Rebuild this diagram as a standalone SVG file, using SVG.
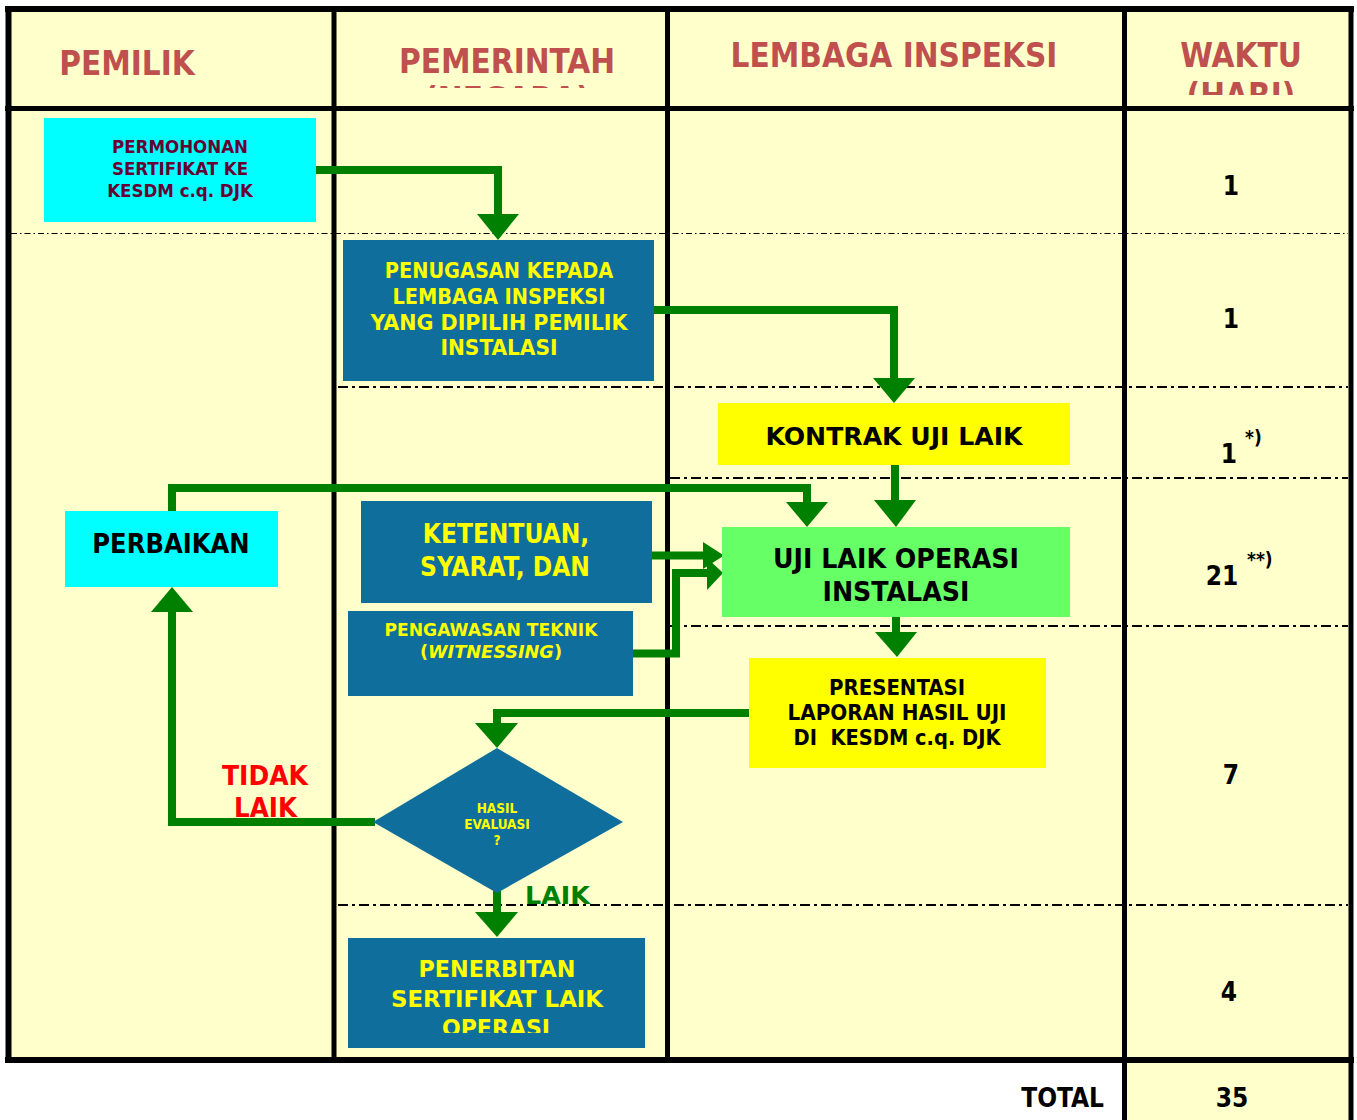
<svg xmlns="http://www.w3.org/2000/svg" width="1357" height="1120" viewBox="0 0 1357 1120">
<style>
.t{font-family:'DejaVu Sans Condensed','DejaVu Sans',sans-serif;font-stretch:condensed;font-weight:bold;text-anchor:middle}
.hdr{fill:#C0504D;font-size:33px}
.grid{stroke:#000;stroke-width:5;fill:none}
.dd1{stroke:#000;stroke-width:1.2;stroke-dasharray:6 3 1.5 3;fill:none}
.dd2{stroke:#000;stroke-width:2;stroke-dasharray:10 4 3 4;fill:none}
.conn{stroke:#008000;stroke-width:8;fill:none}
.ah{fill:#008000}
.blue{fill:#0F6E9B}
.yel{fill:#FFFF00}
.cyan{fill:#00FFFF}
.ytx{fill:#FFFF00}
.btx{fill:#000}
.num{fill:#000;font-size:26px}
</style>
<defs>
<clipPath id="clipPem"><rect x="336" y="12" width="330" height="76"/></clipPath>
<clipPath id="clipWak"><rect x="1127" y="12" width="222" height="83"/></clipPath>
<clipPath id="clipPen"><rect x="348" y="938" width="297" height="95"/></clipPath>
</defs>

<!-- background -->
<rect x="0" y="0" width="1357" height="1120" fill="#FFFFFF"/>
<rect x="8" y="9" width="1343" height="1051" fill="#FFFFCC"/>
<rect x="1124" y="1060" width="227" height="60" fill="#FFFFCC"/>

<!-- grid -->
<g id="grid">
<line class="grid" x1="5" y1="9" x2="1354" y2="9" style="stroke-width:6"/>
<line class="grid" x1="5" y1="108.5" x2="1354" y2="108.5"/>
<line class="grid" x1="5" y1="1060" x2="1354" y2="1060" style="stroke-width:6"/>
<line class="grid" x1="8.5" y1="6" x2="8.5" y2="1063" style="stroke-width:6"/>
<line class="grid" x1="334" y1="6" x2="334" y2="1063"/>
<line class="grid" x1="667.5" y1="6" x2="667.5" y2="1063"/>
<line class="grid" x1="1124.5" y1="6" x2="1124.5" y2="1120"/>
<line class="grid" x1="1351" y1="6" x2="1351" y2="1120"/>
<line class="dd1" x1="11" y1="233.5" x2="1348" y2="233.5"/>
<line class="dd2" x1="338" y1="387" x2="1348" y2="387"/>
<line class="dd2" x1="670" y1="478" x2="1348" y2="478"/>
<line class="dd2" x1="670" y1="626" x2="1348" y2="626"/>
<line class="dd2" x1="338" y1="905" x2="1348" y2="905"/>
</g>

<!-- headers -->
<g id="headers">
<text class="t hdr" x="127" y="75">PEMILIK</text>
<text class="t hdr" x="507" y="73">PEMERINTAH</text>
<text class="t hdr" x="507" y="111" clip-path="url(#clipPem)">(NEGARA)</text>
<text class="t hdr" x="894" y="67">LEMBAGA INSPEKSI</text>
<text class="t hdr" x="1241" y="67">WAKTU</text>
<text class="t hdr" x="1241" y="107" clip-path="url(#clipWak)">(HARI)</text>
</g>

<!-- connectors -->
<g id="connectors">
<polyline class="conn" points="313,170 498,170 498,216"/>
<polygon class="ah" points="477,214 519,214 498,240"/>
<polyline class="conn" points="652,310 894,310 894,380"/>
<polygon class="ah" points="873,378 915,378 894,403"/>
<polyline class="conn" points="895,463 895,502"/>
<polygon class="ah" points="874,500 916,500 896,527"/>
<polyline class="conn" points="172,513 172,488 807,488 807,504"/>
<polygon class="ah" points="786,502 828,502 807,527"/>
<polyline class="conn" points="643,555.5 705,555.5"/>
<polygon class="ah" points="703,542 703,569 724,555.5"/>
<polyline class="conn" points="630,653.5 676,653.5 676,573 710,573"/>
<polygon class="ah" points="707,558 707,590 723,573"/>
<polyline class="conn" points="896,615 896,634"/>
<polygon class="ah" points="875,632 917,632 897,657"/>
<polyline class="conn" points="751,713 497,713 497,725"/>
<polygon class="ah" points="475,723 518,723 497,748"/>
<polyline class="conn" points="497,891 497,914"/>
<polygon class="ah" points="475,912 518,912 497,937"/>
<polyline class="conn" points="375,822 172,822 172,610"/>
<polygon class="ah" points="151,612 193,612 172,587"/>
</g>

<!-- nodes -->
<g id="permohonan">
<rect class="cyan" x="44" y="118" width="272" height="104"/>
<text class="t" style="fill:#660033;font-size:18.5px" x="180" y="153">PERMOHONAN</text>
<text class="t" style="fill:#660033;font-size:18.5px" x="180" y="175">SERTIFIKAT KE</text>
<text class="t" style="fill:#660033;font-size:18.5px" x="180" y="197">KESDM c.q. DJK</text>
</g>
<g id="penugasan">
<rect class="blue" x="343" y="240" width="311" height="141"/>
<text class="t ytx" style="font-size:21.5px" x="499" y="278">PENUGASAN KEPADA</text>
<text class="t ytx" style="font-size:21.5px" x="499" y="304">LEMBAGA INSPEKSI</text>
<text class="t ytx" style="font-size:21.5px" x="499" y="330" textLength="257" lengthAdjust="spacingAndGlyphs">YANG DIPILIH PEMILIK</text>
<text class="t ytx" style="font-size:21.5px" x="499" y="355" textLength="117" lengthAdjust="spacingAndGlyphs">INSTALASI</text>
</g>
<g id="kontrak">
<rect class="yel" x="718" y="403" width="352" height="62"/>
<text class="t btx" style="font-size:25.5px" x="894" y="445" textLength="257" lengthAdjust="spacingAndGlyphs">KONTRAK UJI LAIK</text>
</g>
<g id="ketentuan">
<rect class="blue" x="361" y="501" width="291" height="102"/>
<text class="t ytx" style="font-size:26px" x="506" y="543">KETENTUAN,</text>
<text class="t ytx" style="font-size:26px" x="505" y="576">SYARAT, DAN</text>
</g>
<g id="pengawasan">
<rect class="blue" x="348" y="611" width="285" height="85"/>
<text class="t ytx" style="font-size:18px" x="491" y="636" textLength="213" lengthAdjust="spacingAndGlyphs">PENGAWASAN TEKNIK</text>
<text class="t ytx" style="font-size:18px" x="491" y="658" textLength="142" lengthAdjust="spacingAndGlyphs">(<tspan font-style="italic">WITNESSING</tspan>)</text>
</g>
<g id="ujilaik">
<rect x="722" y="527" width="348" height="90" fill="#66FF66"/>
<text class="t btx" style="font-size:26.5px" x="896" y="568" textLength="246" lengthAdjust="spacingAndGlyphs">UJI LAIK OPERASI</text>
<text class="t btx" style="font-size:26.5px" x="896" y="601" textLength="147" lengthAdjust="spacingAndGlyphs">INSTALASI</text>
</g>
<g id="presentasi">
<rect class="yel" x="749" y="658" width="297" height="110"/>
<text class="t btx" style="font-size:20.5px" x="897" y="695" textLength="136" lengthAdjust="spacingAndGlyphs">PRESENTASI</text>
<text class="t btx" style="font-size:20.5px" x="897" y="720" textLength="219" lengthAdjust="spacingAndGlyphs">LAPORAN HASIL UJI</text>
<text class="t btx" style="font-size:20.5px" x="897" y="745" textLength="207" lengthAdjust="spacingAndGlyphs" xml:space="preserve">DI  KESDM c.q. DJK</text>
</g>
<g id="perbaikan">
<rect class="cyan" x="65" y="511" width="213" height="76"/>
<text class="t btx" style="font-size:27px" x="171" y="553">PERBAIKAN</text>
</g>
<g id="evaluasi">
<polygon class="blue" points="497,748 623,822 497,893 373,822"/>
<text class="t ytx" style="font-size:13.5px" x="497" y="813">HASIL</text>
<text class="t ytx" style="font-size:13.5px" x="497" y="829">EVALUASI</text>
<text class="t ytx" style="font-size:13.5px" x="497" y="845">?</text>
</g>
<g id="penerbitan">
<rect class="blue" x="348" y="938" width="297" height="110"/>
<g clip-path="url(#clipPen)">
<text class="t ytx" style="font-size:23px" x="497" y="977" textLength="157" lengthAdjust="spacingAndGlyphs">PENERBITAN</text>
<text class="t ytx" style="font-size:23px" x="497" y="1007" textLength="212" lengthAdjust="spacingAndGlyphs">SERTIFIKAT LAIK</text>
<text class="t ytx" style="font-size:23px" x="496" y="1036" textLength="108" lengthAdjust="spacingAndGlyphs">OPERASI</text>
</g>
</g>

<!-- labels -->
<g id="labels">
<text class="t" style="fill:#FF0000;font-size:26px" x="265" y="785" textLength="86" lengthAdjust="spacingAndGlyphs">TIDAK</text>
<text class="t" style="fill:#FF0000;font-size:26px" x="265.5" y="817" textLength="63" lengthAdjust="spacingAndGlyphs">LAIK</text>
<text class="t" style="fill:#008000;font-size:25px;text-anchor:start" x="525" y="904" textLength="65" lengthAdjust="spacingAndGlyphs">LAIK</text>
</g>

<!-- waktu -->
<g id="waktu">
<text class="t num" x="1231" y="195">1</text>
<text class="t num" x="1231" y="328">1</text>
<text class="t num" x="1229" y="463">1</text>
<text class="t btx" style="font-size:19px;text-anchor:start" x="1245" y="444">*)</text>
<text class="t num" x="1222" y="585">21</text>
<text class="t btx" style="font-size:19px;text-anchor:start" x="1247" y="566">**)</text>
<text class="t num" x="1231" y="784">7</text>
<text class="t num" x="1229" y="1001">4</text>
<text class="t num" style="text-anchor:end" x="1104" y="1107">TOTAL</text>
<text class="t num" x="1232" y="1107">35</text>
</g>
</svg>
